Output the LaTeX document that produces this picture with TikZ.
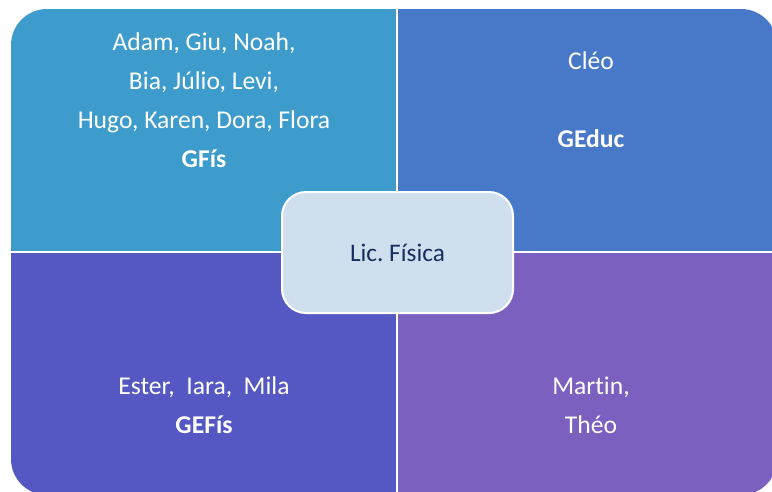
\documentclass[tikz,border=0pt]{standalone}
\usepackage{fontspec}
\setmainfont[Ligatures=NoCommon]{Carlito}
\frenchspacing
\begin{document}
\begin{tikzpicture}[x=1pt,y=-1pt,
  quadtext/.style={text=white,font=\fontsize{25.6}{39}\selectfont,align=center,inner sep=0pt},
  hub/.style={draw=white,line width=2pt,fill=hubfill,rounded corners=24pt,minimum width=231pt,minimum height=121pt,
    text=hubtext,font=\fontsize{25.3}{30}\selectfont}]
\definecolor{qtl}{RGB}{62,156,205}
\definecolor{qtr}{RGB}{72,120,200}
\definecolor{qbl}{RGB}{85,88,195}
\definecolor{qbr}{RGB}{123,96,192}
\definecolor{hubfill}{RGB}{207,223,238}
\definecolor{hubtext}{RGB}{26,45,96}
\useasboundingbox (0,0) rectangle (772,491);
% four quadrants inside one rounded outline
\begin{scope}
  \clip[rounded corners=36pt] (11,9) rectangle (777,495);
  \fill[qtl] (11,9) rectangle (397,252);
  \fill[qtr] (397,9) rectangle (777,252);
  \fill[qbl] (11,252) rectangle (397,495);
  \fill[qbr] (397,252) rectangle (777,495);
  \draw[white,line width=2pt] (397,0) -- (397,495);
  \draw[white,line width=2pt] (0,252) -- (777,252);
\end{scope}
% quadrant labels
\node[quadtext] (gfis) at (204,100) {Adam, Giu, Noah,\\Bia, Júlio, Levi,\\Hugo, Karen, Dora, Flora\\\textbf{GFís}};
\node[quadtext] (geduc) at (591,100) {Cléo\\[39pt]\textbf{GEduc}};
\node[quadtext] (gefis) at (204,405) {Ester,\ \ Iara,\ \ Mila\\\textbf{GEFís}};
\node[quadtext] (other) at (591,405) {Martin,\\Théo};
% central box
\node[hub] (lic) at (397.5,252.5) {Lic. Física};
\end{tikzpicture}
\end{document}
